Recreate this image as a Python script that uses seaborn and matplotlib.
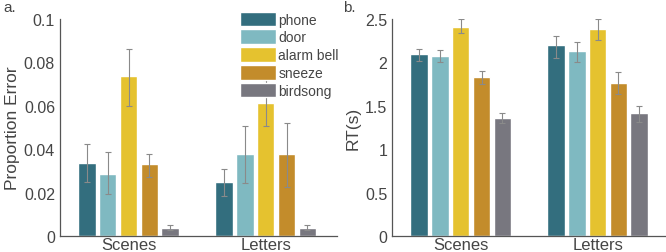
import numpy as np
import pandas as pd
import matplotlib.pyplot as plt
import seaborn as sns

# Values
conditions = ['Scenes', 'Letters']
sounds = ['phone', 'door', 'alarm bell', 'sneeze', 'birdsong']
colors = ['#336e7e', '#7fb9c1', '#e5c22f', '#c38c2b', '#78777f']

# proportion error (panel a), rows = condition, cols = sound
err_mean = [[0.0337, 0.0288, 0.0736, 0.0330, 0.0037],
            [0.0247, 0.0377, 0.0615, 0.0377, 0.0037]]
err_low = [[0.0248, 0.0192, 0.0600, 0.0270, 0.0027],
           [0.0184, 0.0244, 0.0506, 0.0224, 0.0027]]
err_high = [[0.0422, 0.0387, 0.0860, 0.0380, 0.0049],
            [0.0308, 0.0506, 0.0718, 0.0520, 0.0049]]

# reaction time (panel b)
rt_mean = [[2.10, 2.076, 2.41, 1.835, 1.365],
           [2.20, 2.137, 2.38, 1.766, 1.414]]
rt_low = [[2.02, 2.00, 2.34, 1.75, 1.30],
          [2.05, 2.01, 2.255, 1.64, 1.315]]
rt_high = [[2.16, 2.14, 2.50, 1.90, 1.42],
           [2.305, 2.24, 2.50, 1.885, 1.50]]

sns.set_style('white')
plt.rcParams['font.family'] = ['Liberation Sans', 'DejaVu Sans']
txt = '#454545'
plt.rcParams['text.color'] = txt
plt.rcParams['axes.labelcolor'] = txt
plt.rcParams['xtick.color'] = txt
plt.rcParams['ytick.color'] = txt


def make_df(mean, low, high):
    rows = []
    for i, c in enumerate(conditions):
        for j, s in enumerate(sounds):
            rows.append({'cond': c, 'sound': s, 'val': mean[i][j],
                         'lo': low[i][j], 'hi': high[i][j]})
    return pd.DataFrame(rows)


def panel(ax, df, ylabel, yticks, yticklabels, ylim, xmax):
    sns.barplot(data=df, x='cond', y='val', hue='sound', order=conditions,
                hue_order=sounds, palette=colors, errorbar=None,
                width=0.76, gap=0.16, saturation=1, ax=ax, legend=True)
    bar_groups = list(ax.containers)
    for j, cont in enumerate(bar_groups):
        sub = df[df['sound'] == sounds[j]].set_index('cond').loc[conditions]
        xs = [b.get_x() + b.get_width() / 2 for b in cont]
        ax.errorbar(xs, sub['val'],
                    yerr=[sub['val'] - sub['lo'], sub['hi'] - sub['val']],
                    fmt='none', ecolor='#8a8a8a', elinewidth=0.8,
                    capsize=2, capthick=0.8, zorder=5)
    ax.set_xlim(-0.5, xmax)
    ax.set_ylim(*ylim)
    ax.set_yticks(yticks)
    ax.set_yticklabels(yticklabels)
    ax.set_xlabel('')
    ax.set_ylabel(ylabel, fontsize=12.5, labelpad=3)
    ax.tick_params(axis='y', direction='in', length=3, width=0.8,
                   labelsize=11.5, pad=3.5)
    ax.tick_params(axis='x', length=0, labelsize=12, pad=0.5)
    sns.despine(ax=ax)
    for sp in ['left', 'bottom']:
        ax.spines[sp].set_color('#555555')
        ax.spines[sp].set_linewidth(0.9)


fig = plt.figure(figsize=(6.66, 2.53), dpi=100)
ax1 = fig.add_axes([0.090, 0.063, 0.416, 0.858])
ax2 = fig.add_axes([0.589, 0.063, 0.411, 0.858])

panel(ax1, make_df(err_mean, err_low, err_high), 'Proportion Error',
      [0, 0.02, 0.04, 0.06, 0.08, 0.1],
      ['0', '0.02', '0.04', '0.06', '0.08', '0.1'], (0, 0.1), 1.52)
panel(ax2, make_df(rt_mean, rt_low, rt_high), 'RT(s)',
      [0, 0.5, 1, 1.5, 2, 2.5], ['0', '0.5', '1', '1.5', '2', '2.5'],
      (0, 2.5), 1.5)

handles, labels = ax1.get_legend_handles_labels()
ax1.legend(handles, labels, loc='upper left', bbox_to_anchor=(0.63, 1.06),
           frameon=False, fontsize=10, handlelength=2.6, handleheight=1.25,
           handletextpad=0.15, labelspacing=0.2, borderaxespad=0)
ax2.get_legend().remove()

fig.text(0.005, 0.998, 'a.', fontsize=11, va='top', ha='left')
fig.text(0.515, 0.998, 'b.', fontsize=11, va='top', ha='left')

fig.savefig('out.png', dpi=100)
